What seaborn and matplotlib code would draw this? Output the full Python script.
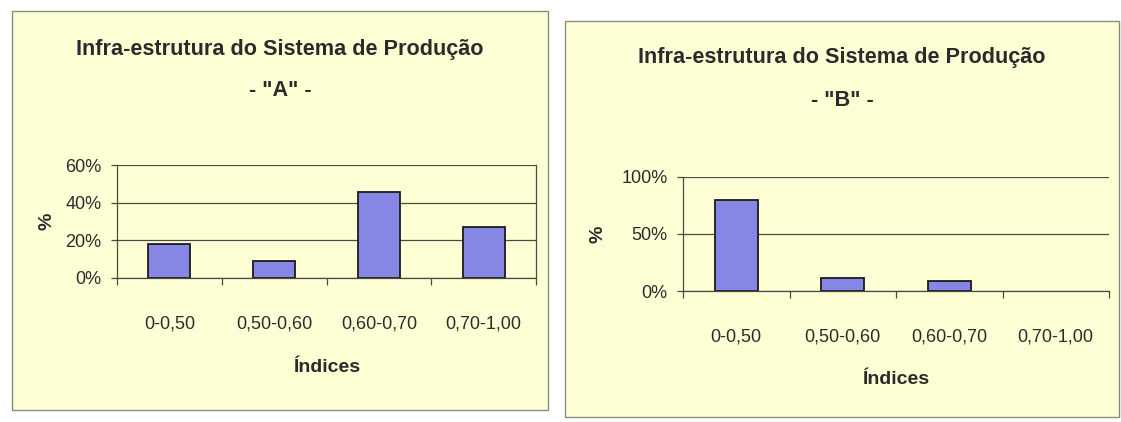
import matplotlib
matplotlib.use("Agg")
import matplotlib.pyplot as plt
from matplotlib.patches import Rectangle
from matplotlib.ticker import FuncFormatter, FixedLocator
import seaborn as sns
import pandas as pd

# ---- data ----
categories = ["0-0,50", "0,50-0,60", "0,60-0,70", "0,70-1,00"]
values_a = [18.2, 9.1, 45.5, 27.3]
values_b = [80.0, 11.0, 9.0, 0.0]
title_line1 = "Infra-estrutura do Sistema de Produção"
subtitle_a = '- "A" -'
subtitle_b = '- "B" -'
yticks_a = [0, 20, 40, 60]
yticks_b = [0, 50, 100]
xlabel = "Índices"
ylabel = "%"

sns.set_theme(style="white")
FONT = ["Liberation Sans", "DejaVu Sans"]
plt.rcParams["font.family"] = FONT

PANEL = "#FFFFD6"
BAR = "#8686E4"
TXT = "#2B2B2B"
GRID = "#4A4A40"

fig = plt.figure(figsize=(11.21, 4.22), dpi=100)
fig.patch.set_facecolor("white")

W, H = 1121, 422

def px_rect(x0, y0, x1, y1):
    return [x0 / W, (H - y1) / H, (x1 - x0) / W, (y1 - y0) / H]

# panel backgrounds
for (x0, y0, x1, y1) in [(12, 11, 548, 410), (565, 21, 1119, 417)]:
    l, b, w, h = px_rect(x0, y0, x1, y1)
    fig.patches.append(Rectangle((l, b), w, h, transform=fig.transFigure,
                                 facecolor=PANEL, edgecolor="#8A8A80", lw=1.0, zorder=-5))

def pct(v, _):
    return f"{int(round(v))}%"

def draw(ax_rect, vals, yt, sub, title_xy, ylab_x, xlab_y, right_spine):
    ax = fig.add_axes(px_rect(*ax_rect))
    ax.set_zorder(2)
    ax.set_facecolor(PANEL)
    df = pd.DataFrame({"cat": categories, "val": vals})
    sns.barplot(data=df, x="cat", y="val", ax=ax, color=BAR, width=0.4,
                edgecolor="#1A1A1A", linewidth=1.3, saturation=1)
    for p in ax.patches:
        if p.get_height() == 0:
            p.set_linewidth(0)
    ax.set_xlim(-0.5, len(categories) - 0.5)
    ax.set_ylim(yt[0], yt[-1])
    ax.yaxis.set_major_locator(FixedLocator(yt))
    ax.yaxis.set_major_formatter(FuncFormatter(pct))
    ax.grid(axis="y", color=GRID, lw=0.9)
    ax.set_axisbelow(True)
    for s in ["top", "right"]:
        ax.spines[s].set_visible(False)
    if right_spine:
        ax.spines["right"].set_visible(True)
        ax.spines["right"].set_color(GRID)
        ax.spines["right"].set_linewidth(0.9)
    for s in ["left", "bottom"]:
        ax.spines[s].set_color(GRID)
        ax.spines[s].set_linewidth(0.9)
    ax.tick_params(axis="y", which="major", length=4, width=0.9, color=GRID,
                   labelsize=13, labelcolor=TXT, pad=7, left=True)
    ax.tick_params(axis="x", which="major", length=0, labelsize=13,
                   labelcolor=TXT, pad=27)
    ax.xaxis.set_minor_locator(FixedLocator([i - 0.5 for i in range(len(categories) + 1)]))
    ax.tick_params(axis="x", which="minor", length=5, width=0.9, color=GRID,
                   bottom=True, direction="out")
    ax.set_xlabel(xlabel, fontsize=14, fontweight="bold", color=TXT)
    ax.xaxis.set_label_coords(0.5, xlab_y)
    ax.xaxis.label.set_va("center")
    ax.set_ylabel(ylabel, fontsize=14, fontweight="bold", color=TXT)
    ax.yaxis.set_label_coords(ylab_x, 0.5)
    ax.yaxis.label.set_va("center")
    tx, ty1, ty2 = title_xy
    fig.text(tx / W, (H - ty1) / H, title_line1, ha="center", va="center",
             fontsize=15.6, fontweight="bold", color=TXT)
    fig.text(tx / W, (H - ty2) / H, sub, ha="center", va="center",
             fontsize=15.6, fontweight="bold", color=TXT)
    return ax

draw((117, 165, 536, 278), values_a, yticks_a, subtitle_a, (280, 49, 91), -0.167, -0.79, True)
draw((683, 177, 1109, 291), values_b, yticks_b, subtitle_b, (842, 58, 100), -0.2, -0.78, False)

fig.savefig("out.png", dpi=100, facecolor=fig.get_facecolor())
